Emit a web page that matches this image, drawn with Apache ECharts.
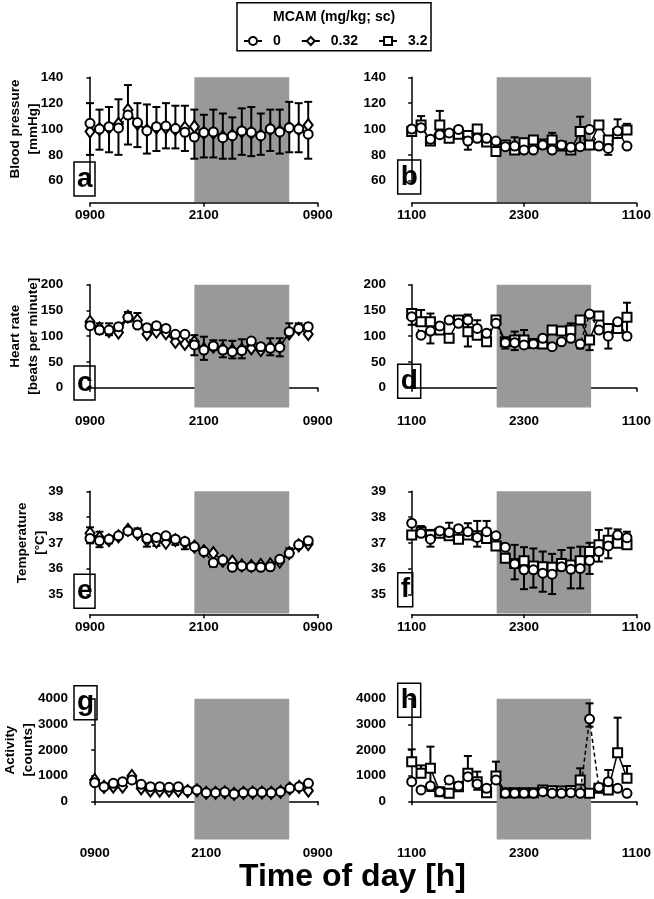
<!DOCTYPE html>
<html><head><meta charset="utf-8">
<script src="https://cdn.jsdelivr.net/npm/echarts@6/dist/echarts.min.js"></script>
<style>html,body{margin:0;padding:0;background:#fff}#c{width:654px;height:899px}</style>
</head><body><div id="c"></div><script>
const FONT = '"Liberation Sans", Arial, Helvetica, sans-serif';
const leftTicks = ['0900', '2100', '0900'];
const rightTicks = ['1100', '2300', '1100'];
const doseNames = ['0', '0.32', '3.2'];

// a: Blood pressure, left
const bpL_0 = [104.4,100,101.8,100.8,110.8,105,98.7,101.8,102.3,100.3,97.4,93.8,97.2,97.7,93.3,94.8,98.5,97.4,94.8,100,97.7,101,100,96];
const bpL_032 = [98,100,101,104,114.7,104,99,101,101,100,101,101.8,97,97,94,95,98,97,95,100,98,101,100,103];
const bpL_err = [[0,80,120],[1,84,115],[2,82,117],[3,80,123],[4,88,134],[5,86,120],[6,81,119],[7,83,117],[8,85,120],[9,85,118],[10,83,118],[11,77,115],[12,78,111],[13,78,115],[14,77,112],[15,77,109],[16,80,116],[17,79,117],[18,80,112],[19,83,115],[20,81,115],[21,82,121],[22,82,120],[23,77,121]];
// b: Blood pressure, right
const bpR_0 = [100,101,92,95.6,97,99.7,90.7,92.8,92.8,90.7,86.3,86.8,83.7,83.7,87.6,83.7,87.6,85.8,86.3,99.7,86.8,85,98.5,86.8];
const bpR_32 = [98,103,90.7,103,92.8,96,95,100,90,82.5,87.6,83.7,89.4,91.5,88.4,91.5,86.8,83.7,98,87.6,103,91.5,96.6,99.2];
const bpR_err = [[1,101,110],[3,95,114],[6,84,91],[11,84,93.6],[15,84,97],[18,86,109.5],[21,80,86],[22,98,107.5],[23,99,104]];
// c: Heart rate, left
const hrL_0 = [120.4,112,112,118.4,136.6,121.7,116.5,120.4,115,103.6,103.6,83,73,81,73,70,72,90.6,79.6,76.4,78.3,108.7,115,118.4];
const hrL_032 = [128,115,110,107,138,131,104,108.7,105.5,89,85,89,75,80,75,72,74,76.4,73,78,80,105.5,114,104];
const hrL_err = [[1,105,125],[2,102,125],[4,128,147],[5,121,145],[11,63,102],[12,54,99],[13,73,92],[14,59,92],[15,57,91],[16,57,94],[19,63,96],[20,61,96],[21,102,125],[22,115,125]];
// d: Heart rate, right
const hrR_0 = [138,102,110,120,131.4,125,131.4,115,105.5,125,87.4,87.4,83,85,96,79.6,89,96,85,143,112,100,128,100];
const hrR_32 = [144,128,128,112,96,131.4,108.7,102,89,131.4,89,92.5,92.5,86,85,112,110,112,131.4,92.5,139,115,115,136.6];
const hrR_err = [[0,122,151],[1,128,151],[2,86,144],[5,131,138],[6,80,142],[7,115,131],[10,76,89],[11,73,109],[12,92,112],[16,110,118],[17,112,125],[18,76,85],[19,73,92],[21,76,100],[23,93,165]];
// e: Temperature, left
const tL_0 = [37.17,37.08,37.14,37.27,37.46,37.37,37.17,37.21,37.27,37.14,37.05,36.85,36.66,36.23,36.33,36.05,36.1,36.07,36.05,36.07,36.36,36.59,36.92,37.08];
const tL_032 = [37.37,37.2,37.1,37.25,37.5,37.35,37.1,37.05,37.0,37.1,37.0,36.85,36.68,36.6,36.3,36.27,36.12,36.1,36.14,36.16,36.27,36.6,36.9,36.95];
const tL_err = [[0,36.98,37.6],[1,36.83,37.43],[2,36.98,37.14],[5,37.37,37.56],[6,36.85,37.17],[7,36.88,37.21],[9,36.92,37.14],[10,36.75,37.05],[13,36.07,36.23],[21,36.59,36.79]];
// f: Temperature, right
const tR_0 = [37.76,37.37,37.14,37.46,37.4,37.55,37.43,37.21,37.43,37.27,36.83,36.18,35.95,35.95,35.82,35.78,36.07,35.97,36.0,36.31,36.66,36.88,37.3,37.2];
const tR_32 = [37.3,37.43,37.3,37.37,37.27,37.14,37.3,37.27,37.17,36.88,36.4,36.2,36.3,36.1,36.07,36.05,36.2,36.14,36.3,36.66,36.92,37.1,36.98,36.92];
const tR_err = [[1,37.37,37.65],[2,36.85,37.5],[4,37.27,37.78],[6,37.3,37.76],[7,36.85,37.85],[8,37.17,37.85],[11,35.58,36.92],[12,35.2,36.83],[13,35.26,36.78],[14,35.1,36.66],[15,35.01,36.57],[16,36.07,36.72],[17,35.23,36.81],[18,35.23,36.85],[19,35.79,37.0],[20,36.27,37.5],[21,36.4,37.56],[22,36.98,37.52],[23,36.92,37.43]];
// g: Activity, left
const aL_0 = [727,571,701,766,831,662,571,571,545,571,416,442,338,338,364,286,338,351,351,338,377,506,571,701];
const aL_032 = [831,560,571,571,987,506,416,416,416,416,400,430,330,330,350,290,330,340,340,330,370,500,560,416];
const aL_err = [];
// h: Activity, right
const aR_0 = [766,442,598,377,831,598,961,675,506,831,312,312,312,312,377,312,312,338,312,3208,545,766,506,312];
const aR_32 = [1546,1091,1286,377,312,571,1091,766,338,987,338,330,330,330,442,416,400,420,831,312,506,442,1897,896];
const aR_err = [[0,1546,2026],[1,1091,1400],[2,400,2130],[6,1091,1767],[7,450,1156],[9,987,1546],[18,831,1286],[19,2910,3819],[21,442,1221],[22,1897,3260],[23,896,1377]];

// ---- layout ----
const cols = [
  {left: 90, width: 227.7, yOff: 21.7, ticks: leftTicks, dark: [11, 21]},
  {left: 411.7, width: 226.6, yOff: 20.7, ticks: rightTicks, dark: [9, 19]}
];
const rows = [
  {top: 77.3, height: 103.4, xOff: 22, min: 60, max: 140, interval: 20, name: 'Blood pressure\n[mmHg]', nameGap: 26},
  {top: 284.7, height: 103, xOff: 20.6, min: 0, max: 200, interval: 50, name: 'Heart rate\n[beats per minute]', nameGap: 26},
  {top: 491.3, height: 103, xOff: 20, min: 35, max: 39, interval: 1, name: 'Temperature\n[°C]', nameGap: 19.5},
  {top: 698.7, height: 102.6, xOff: 39, min: 0, max: 4000, interval: 1000, name: 'Activity\n[counts]', nameGap: 36}
];
const labelPos = {a:[74,162], b:[397.7,160], c:[74,366], d:[397.7,364.3], e:[74,574.3], f:[397.7,572.7], g:[74,685.7], h:[397.7,683.3]};
const panels = [
  {row:0,col:0,label:'a',s0:bpL_0,s1:bpL_032,dose:1,err:bpL_err},
  {row:0,col:1,label:'b',s0:bpR_0,s1:bpR_32,dose:2,err:bpR_err},
  {row:1,col:0,label:'c',s0:hrL_0,s1:hrL_032,dose:1,err:hrL_err},
  {row:1,col:1,label:'d',s0:hrR_0,s1:hrR_32,dose:2,err:hrR_err},
  {row:2,col:0,label:'e',s0:tL_0,s1:tL_032,dose:1,err:tL_err},
  {row:2,col:1,label:'f',s0:tR_0,s1:tR_32,dose:2,err:tR_err},
  {row:3,col:0,label:'g',s0:aL_0,s1:aL_032,dose:1,err:aL_err},
  {row:3,col:1,label:'h',s0:aR_0,s1:aR_32,dose:2,err:aR_err}
];

const grid = [], xAxis = [], yAxis = [], series = [], titles = [];
const bold = {fontFamily: FONT, fontWeight: 'bold', color: '#000'};
const axisLine = {show: true, lineStyle: {color: '#000', width: 1.5}};

panels.forEach((p, k) => {
  const r = rows[p.row], c = cols[p.col];
  const gs = 2 * k, gm = 2 * k + 1;
  grid.push({left: c.left, width: c.width, top: r.top, height: r.height + r.xOff - 0.8});
  grid.push({left: c.left, width: c.width, top: r.top, height: r.height});
  xAxis.push({gridIndex: gs, type: 'value', min: 0, max: 24, show: false});
  yAxis.push({gridIndex: gs, type: 'value', min: 0, max: 1, show: false});
  xAxis.push({gridIndex: gm, type: 'value', min: 0, max: 24, interval: 12, offset: r.xOff,
    axisLine, axisTick: {show: true, length: 4, lineStyle: {color: '#000', width: 1.5}},
    splitLine: {show: false},
    axisLabel: Object.assign({fontSize: 13.5, margin: 6, formatter: v => c.ticks[Math.round(v / 12)]}, bold)});
  yAxis.push(Object.assign({gridIndex: gm, type: 'value', min: r.min, max: r.max, interval: r.interval, offset: c.yOff,
    axisLine, axisTick: {show: true, length: 3.5, lineStyle: {color: '#000', width: 1.5}},
    splitLine: {show: false},
    axisLabel: Object.assign({fontSize: 13.5, margin: 5, formatter: v => String(v)}, bold)},
    p.col === 0 ? {name: r.name, nameLocation: 'middle', nameGap: r.nameGap, nameMoveOverlap: false,
      nameTextStyle: Object.assign({fontSize: 13.5, lineHeight: 18}, bold)} : {}));
  // dark phase shading
  series.push({type: 'line', name: 'dark', xAxisIndex: gs, yAxisIndex: gs, data: [], silent: true, z: 1,
    markArea: {silent: true, itemStyle: {color: '#999999'}, data: [[{xAxis: c.dark[0]}, {xAxis: c.dark[1]}]]}});
  // error bars
  series.push({type: 'custom', name: 'err', xAxisIndex: gm, yAxisIndex: gm, z: 2, silent: true, clip: false,
    data: p.err, encode: {x: 0, y: [1, 2]},
    renderItem: (params, api) => {
      const x = api.value(0);
      const a = api.coord([x, api.value(1)]), b = api.coord([x, api.value(2)]);
      const w = 4, st = {stroke: '#000', lineWidth: 2};
      return {type: 'group', children: [
        {type: 'line', shape: {x1: a[0], y1: a[1], x2: b[0], y2: b[1]}, style: st},
        {type: 'line', shape: {x1: a[0] - w, y1: a[1], x2: a[0] + w, y2: a[1]}, style: st},
        {type: 'line', shape: {x1: b[0] - w, y1: b[1], x2: b[0] + w, y2: b[1]}, style: st}
      ]};
    }});
  const isSq = p.dose === 2;
  series.push({type: 'line', name: doseNames[p.dose], xAxisIndex: gm, yAxisIndex: gm, z: 3, clip: false,
    data: p.s1.map((v, i) => [i, v]),
    symbol: isSq ? 'rect' : 'diamond', symbolSize: isSq ? 9 : [9, 12], showAllSymbol: true,
    itemStyle: {color: '#fff', borderColor: '#000', borderWidth: 2},
    lineStyle: {color: '#000', width: 1.5}});
  series.push({type: 'line', name: doseNames[0], xAxisIndex: gm, yAxisIndex: gm, z: 4, clip: false,
    data: p.s0.map((v, i) => [i, v]),
    symbol: 'circle', symbolSize: 9, showAllSymbol: true,
    itemStyle: {color: '#fff', borderColor: '#000', borderWidth: 2},
    lineStyle: {color: '#000', width: 1.5, type: [4, 3]}});
  const lp = labelPos[p.label];
  titles.push({text: p.label, left: lp[0], top: lp[1], padding: [2, 3, 2, 3],
    borderColor: '#000', borderWidth: 1.5,
    textStyle: Object.assign({fontSize: 28, lineHeight: 30}, bold)});
});

titles.push({text: 'MCAM (mg/kg; sc)', left: 237, top: 2.7, padding: [6, 36, 26, 36],
  borderColor: '#000', borderWidth: 1.5,
  textStyle: Object.assign({fontSize: 14, lineHeight: 16}, bold)});
titles.push({text: 'Time of day [h]', left: 239, top: 860, padding: 0,
  textStyle: Object.assign({fontSize: 32, lineHeight: 34}, bold)});

const chart = echarts.init(document.getElementById('c'), null, {renderer: 'canvas'});
chart.setOption({
  animation: false,
  backgroundColor: '#fff',
  title: titles,
  legend: {data: doseNames, left: 243, top: 34, padding: 0, itemGap: 20, itemWidth: 18, itemHeight: 10,
    selectedMode: false, textStyle: Object.assign({fontSize: 14, padding: [0, 0, 0, 6]}, bold)},
  grid, xAxis, yAxis, series
});
</script></body></html>
